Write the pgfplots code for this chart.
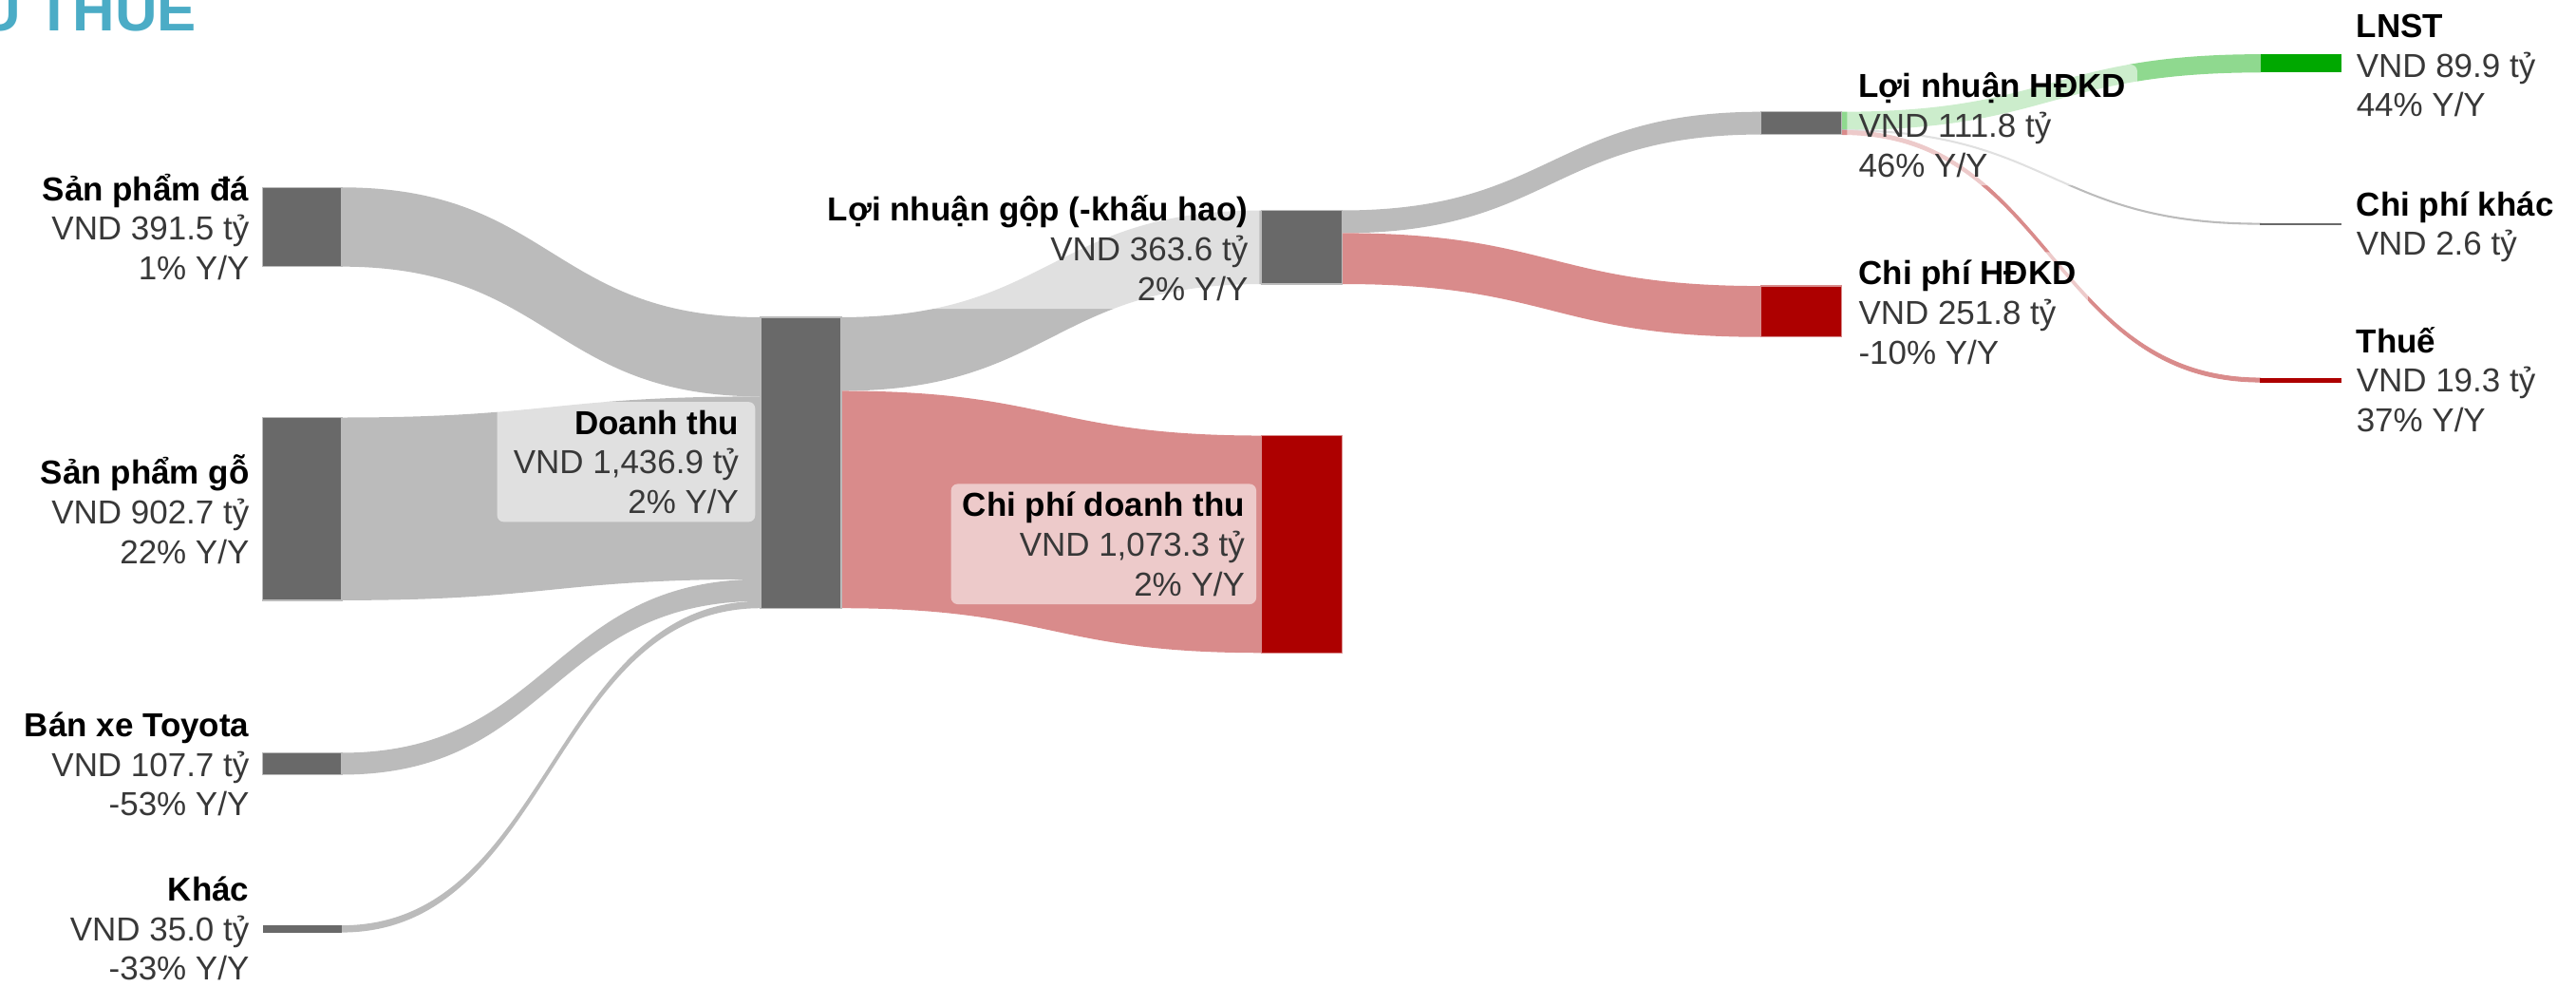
\documentclass[border=0pt]{standalone}
\usepackage{pgfplots}
\pgfplotsset{compat=1.18}
\usepackage{fontspec}
\setmainfont{Liberation Sans}
\definecolor{nodegrey}{HTML}{696969}
\definecolor{flowgrey}{HTML}{BBBBBB}
\definecolor{nodered}{HTML}{AD0000}
\definecolor{flowred}{HTML}{D98B8B}
\definecolor{nodegreen}{HTML}{00A800}
\definecolor{flowgreen}{HTML}{8FD98F}
\definecolor{titleblue}{HTML}{4BACC6}
% #1 x0, #2 x1, #3 xmid, #4 src top, #5 src bottom, #6 tgt top, #7 tgt bottom, #8 style
\newcommand{\flow}[8]{\fill[#8] (axis cs:#1,#4) .. controls (axis cs:#3,#4) and (axis cs:#3,#6) .. (axis cs:#2,#6) -- (axis cs:#2,#7) .. controls (axis cs:#3,#7) and (axis cs:#3,#5) .. (axis cs:#1,#5) -- cycle;}
\tikzset{lbl/.style={fill=white, fill opacity=0.55, text opacity=1, rounded corners=0.08cm,
  inner xsep=0.14cm, inner ysep=0.1cm, font=\fontsize{11.5}{13.7}\selectfont, text=black!78}}
\newcommand{\tl}[1]{{\bfseries\color{black}#1}}
\begin{document}
\begin{tikzpicture}
\useasboundingbox (0,0) rectangle (31.36cm,12cm);
\clip (0,0) rectangle (31.36cm,12cm);
\begin{axis}[scale only axis, width=31.36cm, height=12cm, at={(0,0)}, anchor=south west,
  xmin=0, xmax=1568, ymin=0, ymax=600, y dir=reverse, hide axis, clip=false]
% ---- flows (values in VND ty; 1 ty = 0.1232 px) ----
\flow{208}{463}{335.5}{114.0}{162.2}{193.0}{241.2}{flowgrey}      % San pham da 391.5
\flow{208}{463}{335.5}{254.0}{365.2}{241.2}{352.4}{flowgrey}      % San pham go 902.7
\flow{208}{463}{335.5}{458.0}{471.3}{352.4}{365.7}{flowgrey}      % Toyota 107.7
\flow{208}{463}{335.5}{563.0}{567.3}{365.7}{370.0}{flowgrey}      % Khac 35.0
\flow{512}{768}{640}{193.0}{237.8}{128.0}{172.8}{flowgrey}        % LN gop 363.6
\flow{512}{768}{640}{237.8}{370.0}{265.0}{397.2}{flowred}         % CP doanh thu 1073.3
\flow{817}{1072}{944.5}{128.0}{141.8}{68.0}{81.8}{flowgrey}       % LN HDKD 111.8
\flow{817}{1072}{944.5}{141.8}{172.8}{174.0}{205.0}{flowred}      % CP HDKD 251.8
\flow{1121}{1376}{1248.5}{68.0}{79.1}{33.0}{44.1}{flowgreen}      % LNST 89.9
\flow{1121}{1376}{1248.5}{79.1}{79.4}{136.0}{136.3}{flowgrey, draw=flowgrey, line width=0.018cm}   % CP khac 2.6
\flow{1121}{1376}{1248.5}{79.4}{81.8}{230.0}{232.4}{flowred, draw=flowred, line width=0.01cm}      % Thue 19.3
% ---- nodes ----
\addplot[fill=nodegrey, draw=flowgrey, line width=0.015cm] coordinates {(160,114.0) (208,114.0) (208,162.2) (160,162.2)} -- cycle;
\addplot[fill=nodegrey, draw=flowgrey, line width=0.015cm] coordinates {(160,254.0) (208,254.0) (208,365.2) (160,365.2)} -- cycle;
\addplot[fill=nodegrey, draw=flowgrey, line width=0.015cm] coordinates {(160,458.0) (208,458.0) (208,471.3) (160,471.3)} -- cycle;
\addplot[fill=nodegrey, draw=none] coordinates {(160,563.0) (208,563.0) (208,567.3) (160,567.3)} -- cycle;
\addplot[fill=nodegrey, draw=flowgrey, line width=0.015cm] coordinates {(463,193.0) (512,193.0) (512,370.0) (463,370.0)} -- cycle;
\addplot[fill=nodegrey, draw=flowgrey, line width=0.015cm] coordinates {(768,128.0) (817,128.0) (817,172.8) (768,172.8)} -- cycle;
\addplot[fill=nodered, draw=flowred, line width=0.015cm] coordinates {(768,265.0) (817,265.0) (817,397.2) (768,397.2)} -- cycle;
\addplot[fill=nodegrey, draw=flowgrey, line width=0.015cm] coordinates {(1072,68.0) (1121,68.0) (1121,81.8) (1072,81.8)} -- cycle;
\addplot[fill=nodered, draw=flowred, line width=0.015cm] coordinates {(1072,174.0) (1121,174.0) (1121,205.0) (1072,205.0)} -- cycle;
\addplot[fill=nodegreen, draw=none] coordinates {(1376,33.0) (1425,33.0) (1425,44.1) (1376,44.1)} -- cycle;
\addplot[fill=nodegrey, draw=nodegrey, line width=0.018cm] coordinates {(1376,136.0) (1425,136.0) (1425,136.3) (1376,136.3)} -- cycle;
\addplot[fill=nodered, draw=nodered, line width=0.01cm] coordinates {(1376,230.0) (1425,230.0) (1425,232.4) (1376,232.4)} -- cycle;
% ---- labels ----
\node[lbl, anchor=east, align=right] at (axis cs:159,138) {\tl{Sản phẩm đá}\\VND 391.5 tỷ\\1\% Y/Y};
\node[lbl, anchor=east, align=right] at (axis cs:159,310) {\tl{Sản phẩm gỗ}\\VND 902.7 tỷ\\22\% Y/Y};
\node[lbl, anchor=east, align=right] at (axis cs:159,465) {\tl{Bán xe Toyota}\\VND 107.7 tỷ\\-53\% Y/Y};
\node[lbl, anchor=east, align=right] at (axis cs:159,565) {\tl{Khác}\\VND 35.0 tỷ\\-33\% Y/Y};
\node[lbl, anchor=east, align=right, inner xsep=0.2cm] at (axis cs:460,281) {\tl{Doanh thu}\\VND 1,436.9 tỷ\\2\% Y/Y};
\node[lbl, anchor=east, align=right] at (axis cs:767,151) {\tl{Lợi nhuận gộp (-khấu hao)}\\VND 363.6 tỷ\\2\% Y/Y};
\node[lbl, anchor=east, align=right] at (axis cs:765,331) {\tl{Chi phí doanh thu}\\VND 1,073.3 tỷ\\2\% Y/Y};
\node[lbl, anchor=west, align=left] at (axis cs:1124,76) {\tl{Lợi nhuận HĐKD}\\VND 111.8 tỷ\\46\% Y/Y};
\node[lbl, anchor=west, align=left] at (axis cs:1124,190) {\tl{Chi phí HĐKD}\\VND 251.8 tỷ\\-10\% Y/Y};
\node[lbl, anchor=west, align=left] at (axis cs:1427,40) {\tl{LNST}\\VND 89.9 tỷ\\44\% Y/Y};
\node[lbl, anchor=west, align=left] at (axis cs:1427,138) {\tl{Chi phí khác}\\VND 2.6 tỷ};
\node[lbl, anchor=west, align=left] at (axis cs:1427,231) {\tl{Thuế}\\VND 19.3 tỷ\\37\% Y/Y};
% ---- title (cut at the top-left edge, as in the reference) ----
\node[anchor=base east, inner sep=0pt, text=titleblue, font=\fontsize{20.3}{24}\selectfont\bfseries] at (axis cs:120,19) {LỢI NHUẬN SAU THUẾ};
\end{axis}
\end{tikzpicture}
\end{document}
